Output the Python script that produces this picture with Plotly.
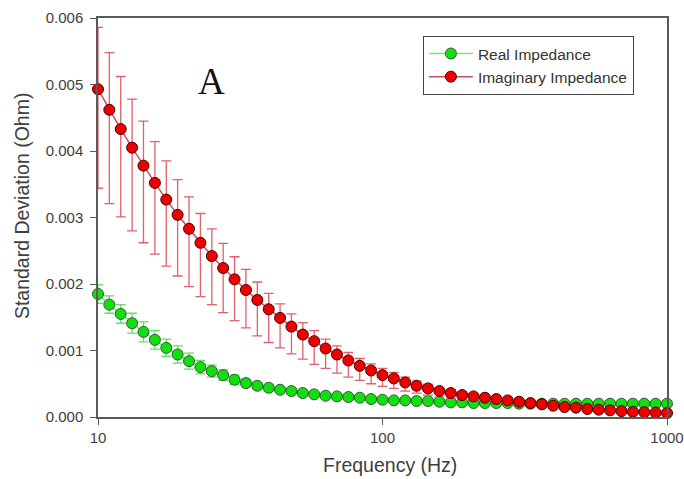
import plotly.graph_objects as go

# Frequencies (Hz), 25 points per decade from 10 Hz to 1 kHz
freq_hz = [
    10.0, 10.96, 12.02, 13.18, 14.45, 15.85, 17.38, 19.05, 20.89, 22.91,
    25.12, 27.54, 30.20, 33.11, 36.31, 39.81, 43.65, 47.86, 52.48, 57.54,
    63.10, 69.18, 75.86, 83.18, 91.20, 100.0, 109.6, 120.2, 131.8, 144.5,
    158.5, 173.8, 190.5, 208.9, 229.1, 251.2, 275.4, 302.0, 331.1, 363.1,
    398.1, 436.5, 478.6, 524.8, 575.4, 631.0, 691.8, 758.6, 831.8, 912.0,
    1000.0,
]

# Standard deviation of the real impedance (Ohm) and its error
real_sd = [
    0.00185, 0.00169, 0.00155, 0.00141, 0.00128, 0.00116, 0.00104, 0.00094, 0.00084, 0.00075,
    0.00069, 0.00063, 0.00056, 0.00051, 0.00047, 0.00044, 0.00041, 0.00039, 0.00036, 0.00034,
    0.00032, 0.00031, 0.00030, 0.00029, 0.00027, 0.00026, 0.00025, 0.00025, 0.00024, 0.00024,
    0.00023, 0.00022, 0.00022, 0.00021, 0.00021, 0.00021, 0.00021, 0.00020, 0.00020, 0.00020,
    0.00020, 0.00020, 0.00020, 0.00020, 0.00020, 0.00020, 0.00020, 0.00020, 0.00020, 0.00020,
    0.00020,
]
real_err = [
    0.00014, 0.00013, 0.00014, 0.00015, 0.00015, 0.00014, 0.00013, 0.00013, 0.00012, 0.00010,
    0.00009, 0.00008, 0.00007, 0.00006, 0.00005, 0.00005, 0.00004, 0.00004, 0.00004, 0.00003,
    0.00003, 0.00003, 0.00003, 0.00003, 0.00003, 0.00002, 0.00002, 0.00002, 0.00002, 0.00002,
    0.00002, 0.00002, 0.00002, 0.00002, 0.00002, 0.00002, 0.00002, 0.00002, 0.00002, 0.00002,
    0.00002, 0.00002, 0.00002, 0.00002, 0.00002, 0.00002, 0.00002, 0.00002, 0.00002, 0.00002,
    0.00002,
]

# Standard deviation of the imaginary impedance (Ohm) with upper / lower errors
imag_sd = [
    0.00493, 0.00462, 0.00433, 0.00405, 0.00378, 0.00352, 0.00327, 0.00304, 0.00283, 0.00262,
    0.00242, 0.00224, 0.00207, 0.00191, 0.00176, 0.00162, 0.00149, 0.00136, 0.00124, 0.00114,
    0.00103, 0.00094, 0.00085, 0.00077, 0.00070, 0.00063, 0.00058, 0.00052, 0.00047, 0.00043,
    0.00039, 0.00036, 0.00033, 0.00031, 0.00029, 0.00027, 0.00025, 0.00023, 0.00021, 0.00019,
    0.00017, 0.00015, 0.00014, 0.00012, 0.00011, 0.00010, 0.000088, 0.000078, 0.000072, 0.000066,
    0.000060,
]
imag_err_up = [
    0.00093, 0.00086, 0.00079, 0.00073, 0.00067, 0.00062, 0.00058, 0.00053, 0.00048, 0.00044,
    0.00041, 0.00037, 0.00034, 0.00031, 0.00027, 0.00024, 0.00021, 0.00019, 0.00018, 0.00016,
    0.00014, 0.00013, 0.00012, 0.00011, 0.00010, 0.00010, 0.00009, 0.00008, 0.00007, 0.00006,
    0.00005, 0.00005, 0.00004, 0.00004, 0.00003, 0.00003, 0.00003, 0.00003, 0.00002, 0.00002,
    0.00002, 0.00002, 0.00002, 0.00002, 0.00002, 0.00002, 0.00001, 0.00001, 0.00001, 0.00001,
    0.00001,
]
imag_err_down = [
    0.00149, 0.00141, 0.00132, 0.00125, 0.00116, 0.00107, 0.00100, 0.00092, 0.00087, 0.00081,
    0.00073, 0.00067, 0.00062, 0.00057, 0.00054, 0.00050, 0.00045, 0.00041, 0.00037, 0.00035,
    0.00030, 0.00028, 0.00025, 0.00022, 0.00020, 0.00017, 0.00015, 0.00013, 0.00011, 0.00010,
    0.00009, 0.00008, 0.00007, 0.00006, 0.00005, 0.00005, 0.00004, 0.00004, 0.00003, 0.00003,
    0.00003, 0.00003, 0.00002, 0.00002, 0.00002, 0.00002, 0.00002, 0.00002, 0.00001, 0.00001,
    0.00001,
]

x_ticks = [10, 100, 1000]
x_tick_text = ["10", "100", "1000"]
y_ticks = [0.000, 0.001, 0.002, 0.003, 0.004, 0.005, 0.006]

AXIS_GREY = "#5a5a5a"
TEXT_GREY = "#404040"

fig = go.Figure()

fig.add_trace(go.Scatter(
    x=freq_hz, y=real_sd, name="Real Impedance",
    mode="lines+markers",
    line=dict(color="#7fe07f", width=1.5),
    marker=dict(size=11, color="#10e010", line=dict(color="#2f5a2f", width=1)),
    error_y=dict(type="data", array=real_err, color="#66dd66",
                 thickness=1.3, width=5),
    cliponaxis=False,
))

fig.add_trace(go.Scatter(
    x=freq_hz, y=imag_sd, name="Imaginary Impedance",
    mode="lines+markers",
    line=dict(color="#c8505e", width=1.5),
    marker=dict(size=11, color="#ee0000", line=dict(color="#4a0000", width=1)),
    error_y=dict(type="data", symmetric=False, array=imag_err_up,
                 arrayminus=imag_err_down, color="#e0606c",
                 thickness=1.3, width=5),
    cliponaxis=False,
))

# Panel letter
fig.add_annotation(
    x=0.1986, y=0.842, xref="paper", yref="paper",
    xanchor="center", yanchor="middle",
    text="A", showarrow=False,
    font=dict(family="Liberation Serif", size=37, color="#111111"),
)

# Axis titles
fig.add_annotation(
    x=0.5136, y=-0.121, xref="paper", yref="paper",
    xanchor="center", yanchor="middle",
    text="Frequency (Hz)", showarrow=False,
    font=dict(size=19.5, color=TEXT_GREY),
)
fig.add_annotation(
    x=-0.1336, y=0.531, xref="paper", yref="paper",
    xanchor="center", yanchor="middle", textangle=-90,
    text="Standard Deviation (Ohm)", showarrow=False,
    font=dict(size=19.5, color=TEXT_GREY),
)

fig.update_xaxes(
    type="log", range=[1, 3], automargin=False,
    tickvals=x_ticks, ticktext=x_tick_text,
    ticks="outside", ticklen=6, tickwidth=1.3, tickcolor=AXIS_GREY,
    showline=True, linecolor=AXIS_GREY, linewidth=1.5, mirror=True,
    showgrid=False, zeroline=False,
    tickfont=dict(size=15, color=TEXT_GREY),
)
fig.update_yaxes(
    range=[0, 0.006], automargin=False,
    tickvals=y_ticks, tickformat=".3f",
    ticks="outside", ticklen=6, tickwidth=1.3, tickcolor=AXIS_GREY,
    showline=True, linecolor=AXIS_GREY, linewidth=1.5, mirror=True,
    showgrid=False, zeroline=False,
    tickfont=dict(size=15, color=TEXT_GREY),
    ticklabelstandoff=4,
)

fig.update_layout(
    width=684, height=479,
    margin=dict(l=98, r=17, t=18, b=62),
    paper_bgcolor="white", plot_bgcolor="white",
    font=dict(family="Liberation Sans", color=TEXT_GREY),
    showlegend=True,
    legend=dict(
        x=0.571, y=0.955, xanchor="left", yanchor="top",
        bgcolor="white", bordercolor="#444444", borderwidth=1,
        font=dict(size=15.5, color="#333333"),
        tracegroupgap=0, itemsizing="trace", itemwidth=44,
    ),
)

fig.write_html("out.html")
